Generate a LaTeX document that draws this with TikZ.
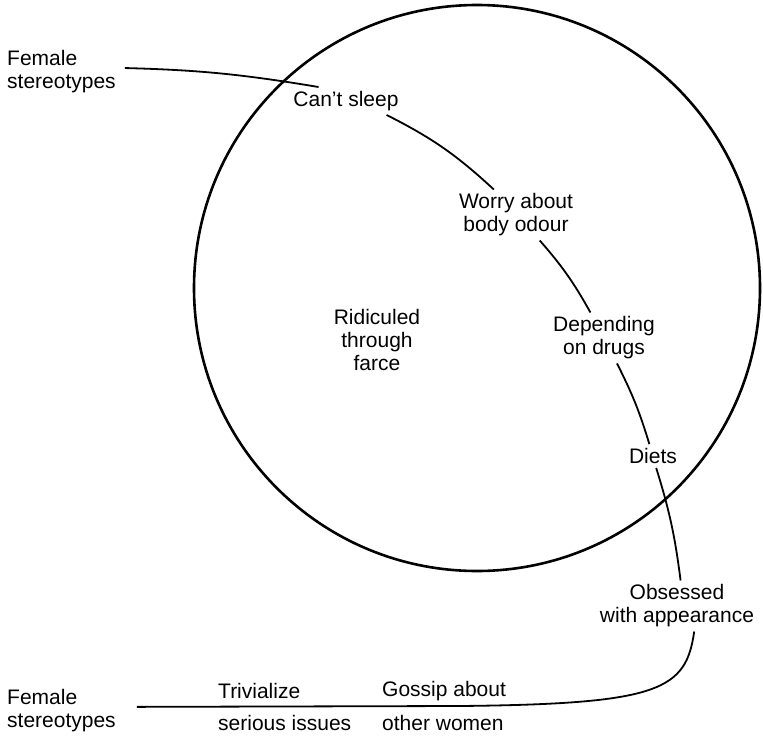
\documentclass[tikz,border=0pt]{standalone}
\usepackage{fontspec}
\setmainfont{Liberation Sans}

\begin{document}
\begin{tikzpicture}[
    x=1pt, y=-1pt,
    lbl/.style={font=\fontsize{21}{23}\selectfont, align=center, inner sep=4pt},
    leftlbl/.style={font=\fontsize{21}{23}\selectfont, align=left, inner sep=4pt},
    link/.style={line width=1.8pt},
    ring/.style={line width=2.6pt}
]
\useasboundingbox (0,0) rectangle (763,736);

% The circle
\draw[ring] (477,288) circle[radius=283];

% Labels round the chain
\node[leftlbl, anchor=west] (fsTop) at (3,72) {Female\\stereotypes};
\node[lbl] (cant) at (346,101) {Can't sleep};
\node[lbl] (worry) at (516,215) {Worry about\\body odour};
\node[lbl] (depend) at (604,338) {Depending\\on drugs};
\node[lbl] (diets) at (653,456) {Diets};
\node[lbl] (obsessed) at (677,606) {Obsessed\\with appearance};
\node[lbl] (ridicule) at (377,340) {Ridiculed\\through\\farce};

% Bottom line labels
\node[leftlbl, anchor=west] (fsBot) at (3,711) {Female\\stereotypes};
\node[leftlbl, anchor=base west] (trivial) at (214,698) {Trivialize};
\node[leftlbl, anchor=base west] (serious) at (214,730) {serious issues};
\node[leftlbl, anchor=base west] (gossip) at (378,696) {Gossip about};
\node[leftlbl, anchor=base west] (women) at (378,730) {other women};
\coordinate (flat) at (460,706);

% Links
\draw[link, shorten <=5pt] (fsTop.4) to[bend left=4] (cant.153);
\draw[link] (cant.-19) to[bend left=8] (worry.131);
\draw[link] (worry.-47) to[bend left=6] (depend.118);
\draw[link] (depend.-63) to[bend left=5] (diets.107);
\draw[link] (diets.-75) to[bend left=5] (obsessed.82);
\draw[link, shorten >=17pt] (obsessed.-56) .. controls (686,690) and (660,704) .. (flat) -- (fsBot.4);

\end{tikzpicture}
\end{document}
